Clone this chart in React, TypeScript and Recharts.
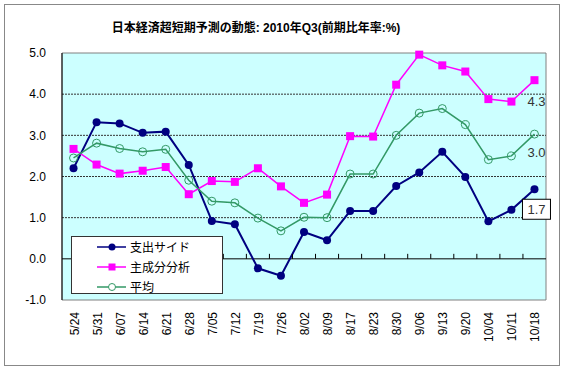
import React from "react"
import { LineChart, Line, XAxis, YAxis, ReferenceLine, ReferenceArea, LabelList } from "recharts"

const dates = ["5/24", "5/31", "6/07", "6/14", "6/21", "6/28", "7/05", "7/12", "7/19", "7/26", "8/02", "8/09", "8/17", "8/23", "8/30", "9/06", "9/13", "9/20", "10/04", "10/11", "10/18"]
const spending = [2.2, 3.32, 3.29, 3.06, 3.09, 2.28, 0.92, 0.84, -0.23, -0.41, 0.65, 0.45, 1.16, 1.16, 1.77, 2.1, 2.6, 1.99, 0.91, 1.19, 1.69]
const principal = [2.67, 2.29, 2.07, 2.14, 2.23, 1.57, 1.89, 1.87, 2.2, 1.76, 1.36, 1.56, 2.98, 2.97, 4.23, 4.96, 4.7, 4.55, 3.88, 3.82, 4.34]
const average = [2.45, 2.81, 2.68, 2.6, 2.66, 1.91, 1.4, 1.36, 0.99, 0.68, 1.01, 1.0, 2.06, 2.06, 3.0, 3.54, 3.65, 3.26, 2.41, 2.5, 3.03]
const yTicks = [-1, 0, 1, 2, 3, 4, 5]
const gridValues = [1, 2, 3, 4]

const seriesNames = ["支出サイド", "主成分分析", "平均"]
const NAVY = "#000080"
const PINK = "#FF00FF"
const GREEN = "#339966"

const data = dates.map((d, i) => ({ date: d, spending: spending[i], principal: principal[i], average: average[i] }))

const FONT = "'Liberation Sans', Arial, 'Noto Sans CJK JP', sans-serif"
const PLOT_TOP = 53
const PLOT_H = 247
const PLOT_W = 484
const ZERO_Y = PLOT_TOP + (PLOT_H * 5) / 6
const BAND = PLOT_W / dates.length
const LAST = dates.length - 1

const XTick = (props: any) => {
  const { x, y, payload, index } = props
  return (
    <g>
      {index > 0 && <line x1={x - BAND / 2} x2={x - BAND / 2} y1={ZERO_Y - 5} y2={ZERO_Y} stroke="#000" />}
      <g transform={`translate(${x},${y + 12})`}>
        <text transform="rotate(-90)" textAnchor="end" dy={5} fontSize={12} fontFamily={FONT} fill="#000">
          {payload.value}
        </text>
      </g>
    </g>
  )
}

const SquareDot = (props: any) => {
  const { cx, cy } = props
  if (cx == null || cy == null) return null
  return <rect x={cx - 4} y={cy - 4} width={8} height={8} fill={PINK} />
}

const endLabel = (dy: number, boxed: boolean) => (props: any) => {
  const { x, y, value, index } = props
  if (index !== LAST) return null
  const cx = x + 1
  const cy = y + dy
  return (
    <g>
      {boxed && <rect x={cx - 13} y={cy - 10} width={28} height={20} fill="#fff" stroke="#000" />}
      <text x={cx + 1} y={cy} textAnchor="middle" dominantBaseline="central" fontSize={13} fontFamily={FONT} fill="#333">
        {Number(value).toFixed(1)}
      </text>
    </g>
  )
}

const LegendBox = () => (
  <div style={{ position: "absolute", left: 71, top: 236, width: 152, height: 58, boxSizing: "border-box", border: "1px solid #333", background: "#fff", paddingTop: 0 }}>
    {seriesNames.map((name, i) => (
      <div key={name} style={{ display: "flex", alignItems: "center", height: 20 }}>
        <svg width={58} height={20}>
          <line x1={25} x2={54} y1={10} y2={10} stroke={[NAVY, PINK, GREEN][i]} strokeWidth={1.5} />
          {i === 0 && <circle cx={40} cy={10} r={3.5} fill={NAVY} />}
          {i === 1 && <rect x={36.5} y={6.5} width={7} height={7} fill={PINK} />}
          {i === 2 && <circle cx={40} cy={10} r={3.5} fill="#fff" stroke={GREEN} />}
        </svg>
        <span style={{ fontSize: 12, fontFamily: "'Noto Sans CJK JP', sans-serif", color: "#000", lineHeight: "20px" }}>{name}</span>
      </div>
    ))}
  </div>
)

export default function App() {
  return (
    <div style={{ position: "absolute", left: 0, top: 0, width: 563, height: 371, background: "#fff" }}>
      <div style={{ position: "absolute", left: 4, top: 4, width: 556, height: 362, boxSizing: "border-box", border: "1px solid #888" }} />
      <div style={{ position: "absolute", left: 0, top: 18, width: 512, textAlign: "center", fontSize: 12, fontWeight: "bold", fontFamily: FONT, color: "#000" }}>
        日本経済超短期予測の動態: 2010年Q3(前期比年率:%)
      </div>
      <div style={{ position: "absolute", left: 0, top: 0 }}>
        <LineChart width={563} height={371} data={data} margin={{ top: PLOT_TOP, right: 17, bottom: 0, left: 12 }}>
          <ReferenceArea y1={-1} y2={5} fill="#CCFFFF" fillOpacity={1} stroke="#808080" ifOverflow="visible" />
          {gridValues.map((v) => (
            <ReferenceLine key={v} y={v} stroke="#333" strokeDasharray="2 1" />
          ))}
          <ReferenceLine y={0} stroke="#000" />
          <XAxis
            dataKey="date"
            scale="band"
            height={71}
            axisLine={false}
            tickLine={false}
            tickSize={0}
            tickMargin={0}
            interval={0}
            tick={<XTick />}
          />
          <YAxis
            width={50}
            domain={[-1, 5]}
            ticks={yTicks}
            interval={0}
            tickFormatter={(v: number) => v.toFixed(1)}
            axisLine={{ stroke: "#000" }}
            tickLine={false}
            tickSize={0}
            tickMargin={16}
            tick={{ fontSize: 12, fontFamily: FONT, fill: "#000" }}
          />
          <Line dataKey="spending" name={seriesNames[0]} stroke={NAVY} strokeWidth={2} dot={{ r: 4, fill: NAVY, stroke: NAVY, strokeWidth: 0 }} isAnimationActive={false}>
            <LabelList dataKey="spending" content={endLabel(20, true)} />
          </Line>
          <Line dataKey="principal" name={seriesNames[1]} stroke={PINK} strokeWidth={1.5} dot={<SquareDot />} isAnimationActive={false}>
            <LabelList dataKey="principal" content={endLabel(21, false)} />
          </Line>
          <Line dataKey="average" name={seriesNames[2]} stroke={GREEN} strokeWidth={1.5} dot={{ r: 4, fill: "none", stroke: GREEN, strokeWidth: 1 }} isAnimationActive={false}>
            <LabelList dataKey="average" content={endLabel(18, false)} />
          </Line>
        </LineChart>
      </div>
      <LegendBox />
    </div>
  )
}
